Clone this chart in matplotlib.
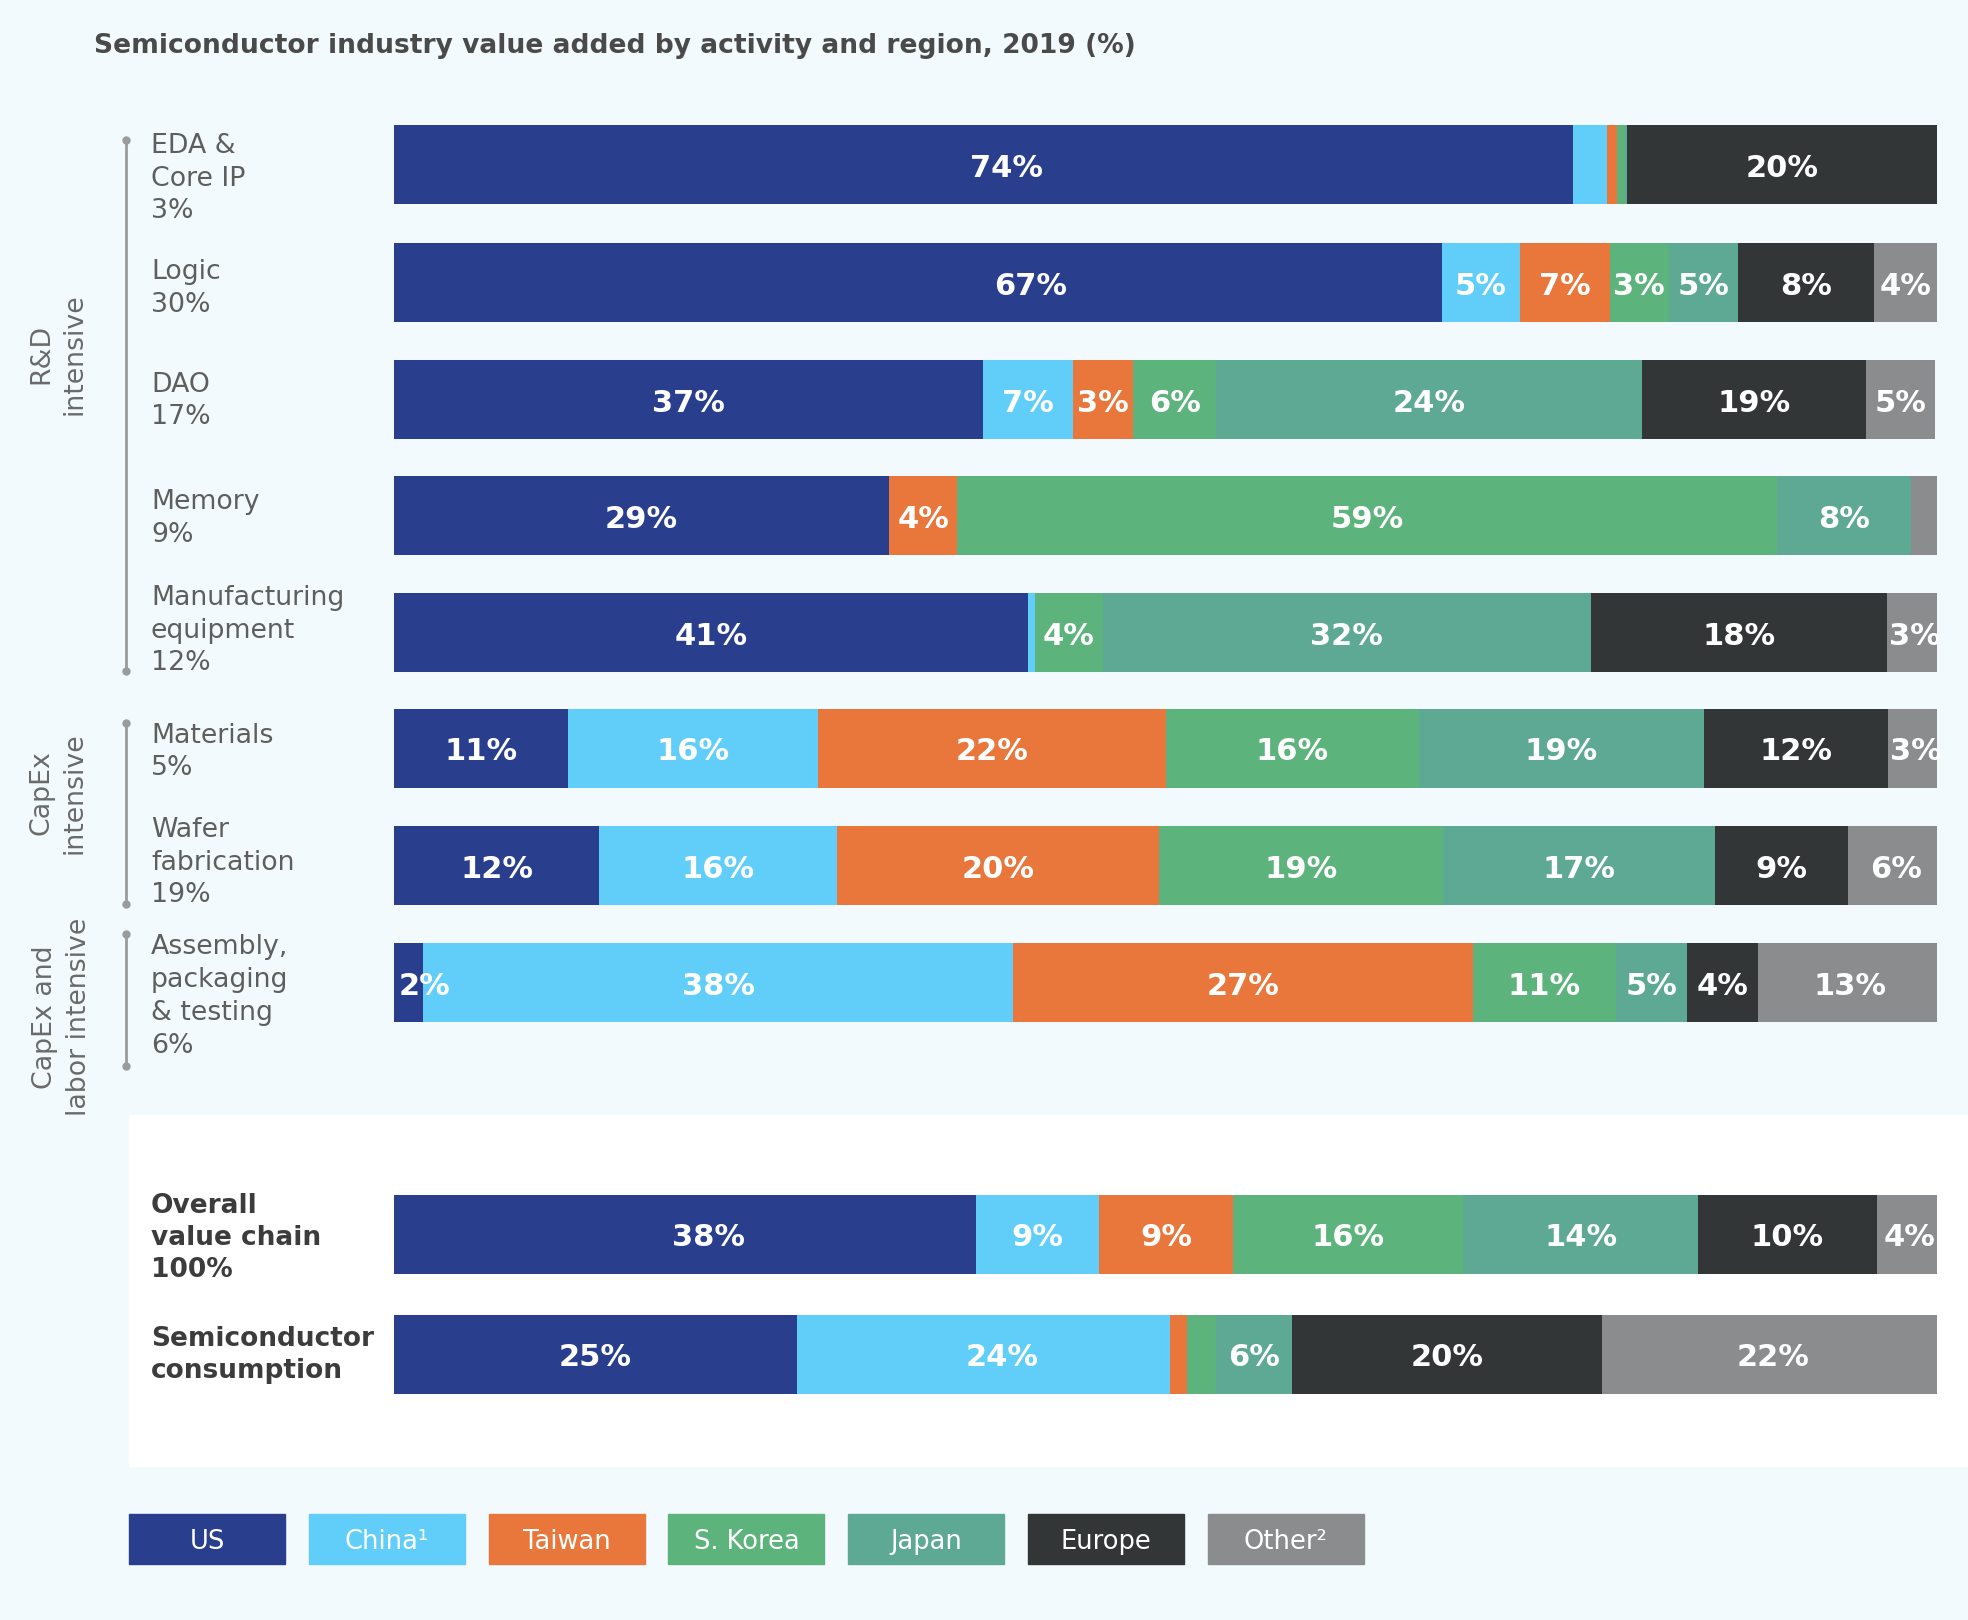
import matplotlib.pyplot as plt
from matplotlib.patches import Rectangle

W, H = 1968, 1620

regions = ['US', 'China¹', 'Taiwan', 'S. Korea', 'Japan', 'Europe', 'Other²']
colors = ['#293F8E', '#61CEFA', '#E9773C', '#5CB37B', '#5EA993', '#333637', '#8B8C8D']

activities = ['EDA &\nCore IP\n3%', 'Logic\n30%', 'DAO\n17%', 'Memory\n9%',
              'Manufacturing\nequipment\n12%', 'Materials\n5%',
              'Wafer\nfabrication\n19%', 'Assembly,\npackaging\n& testing\n6%',
              'Overall\nvalue chain\n100%', 'Semiconductor\nconsumption']
bold_rows = [8, 9]

groups = ['R&D\nintensive', 'CapEx\nintensive', 'CapEx and\nlabor intensive']

# segment widths as drawn in the chart (share of the bar, %)
us     = [76.4, 67.9, 38.2, 32.1, 41.1, 11.3, 13.3, 1.9, 37.7, 26.1]
china  = [2.2, 5.1, 5.8, 0.0, 0.45, 16.2, 15.4, 38.2, 8.0, 24.2]
taiwan = [0.65, 5.8, 3.9, 4.4, 0.0, 22.5, 20.9, 29.8, 8.7, 1.1]
korea  = [0.5, 3.8, 5.4, 53.1, 4.4, 16.4, 18.4, 9.3, 14.9, 1.9]
japan  = [0.15, 4.5, 27.6, 8.7, 31.6, 18.5, 17.6, 4.6, 15.2, 4.9]
europe = [20.1, 8.8, 14.5, 0.0, 19.2, 11.9, 8.6, 4.6, 11.6, 20.1]
other  = [0.0, 4.1, 4.5, 1.9, 3.6, 3.6, 6.3, 11.9, 4.3, 22.1]

# printed values (None = no label)
us_pct     = [74, 67, 37, 29, 41, 11, 12, 2, 38, 25]
china_pct  = [None, 5, 7, None, None, 16, 16, 38, 9, 24]
taiwan_pct = [None, 7, 3, 4, None, 22, 20, 27, 9, None]
korea_pct  = [None, 3, 6, 59, 4, 16, 19, 11, 16, None]
japan_pct  = [None, 5, 24, 8, 32, 19, 17, 5, 14, 6]
europe_pct = [20, 8, 19, None, 18, 12, 9, 4, 10, 20]
other_pct  = [None, 4, 5, None, 3, 3, 6, 13, 4, 22]

series = [us, china, taiwan, korea, japan, europe, other]
labels = [us_pct, china_pct, taiwan_pct, korea_pct, japan_pct, europe_pct, other_pct]

# layout (pixels from top of figure)
bar_y = [164.5, 282.5, 399, 515.5, 632.5, 748, 865.5, 982.5, 1234, 1354]
bar_h = 79
label_dy = [14, 6, 2, 3, -2, 4, -3, 14, 4, 1]
group_y = [354, 793, 1017]
group_x = [58, 58, 62]
brackets = [(140, 671), (723, 904), (934, 1066)]
# label nudges (in % units) where the original is off-centre
nudge = {(0, 0): 1.5, (1, 0): 7.3, (7, 0): 1.0, (8, 0): 1.5, (9, 1): 1.2}

bg_color = '#F2FAFD'
fig = plt.figure(figsize=(W / 100, H / 100), dpi=100, facecolor=bg_color)

# full-figure axes for decorations
bg = fig.add_axes([0, 0, 1, 1])
bg.set_xlim(0, W)
bg.set_ylim(H, 0)
bg.axis('off')
bg.patch.set_alpha(0)

bg.add_patch(Rectangle((129, 1115), W - 129, 351, color='white', zorder=0))

bg.text(94, 46, 'Semiconductor industry value added by activity and region, 2019 (%)',
        fontsize=19.1, fontweight='bold', color='#4A4A4A', va='center', ha='left')

for i, lab in enumerate(activities):
    if i in bold_rows:
        bg.text(151, bar_y[i] + label_dy[i], lab, fontsize=19, fontweight='bold',
                color='#3C3C3C', va='center', ha='left', linespacing=1.32)
    else:
        bg.text(151, bar_y[i] + label_dy[i], lab, fontsize=19.3, color='#5E5E5E',
                va='center', ha='left', linespacing=1.34)

for g, gx, gy in zip(groups, group_x, group_y):
    bg.text(gx, gy, g, rotation=90, fontsize=19.3, color='#6A6A6A',
            ha='center', va='center', multialignment='center', linespacing=1.38)

for y0, y1 in brackets:
    bg.plot([126, 126], [y0, y1], color='#9B9B9B', lw=2, marker='o', ms=5,
            solid_capstyle='butt')

# legend boxes
for i, (name, c) in enumerate(zip(regions, colors)):
    x0 = 129 + i * 179.8
    bg.add_patch(Rectangle((x0, 1514), 156, 50, color=c))
    bg.text(x0 + 78, 1542, name, fontsize=18.5, color='white', ha='center', va='center')

# bars
ax = fig.add_axes([394 / W, 0, 1543 / W, 1])
ax.set_xlim(0, 100)
ax.set_ylim(H, 0)
ax.axis('off')
ax.patch.set_alpha(0)

left = [0.0] * len(bar_y)
for j, (vals, pct, c) in enumerate(zip(series, labels, colors)):
    ax.barh(bar_y, vals, left=left, height=bar_h, color=c, linewidth=0)
    for i, (v, p) in enumerate(zip(vals, pct)):
        if p is not None:
            xc = left[i] + v / 2 + nudge.get((i, j), 0)
            ax.text(xc, bar_y[i] + 4, f'{p}%', fontsize=22, fontweight='bold',
                    color='white', ha='center', va='center')
    left = [l + v for l, v in zip(left, vals)]

fig.savefig('out.png', dpi=100, facecolor=bg_color)
